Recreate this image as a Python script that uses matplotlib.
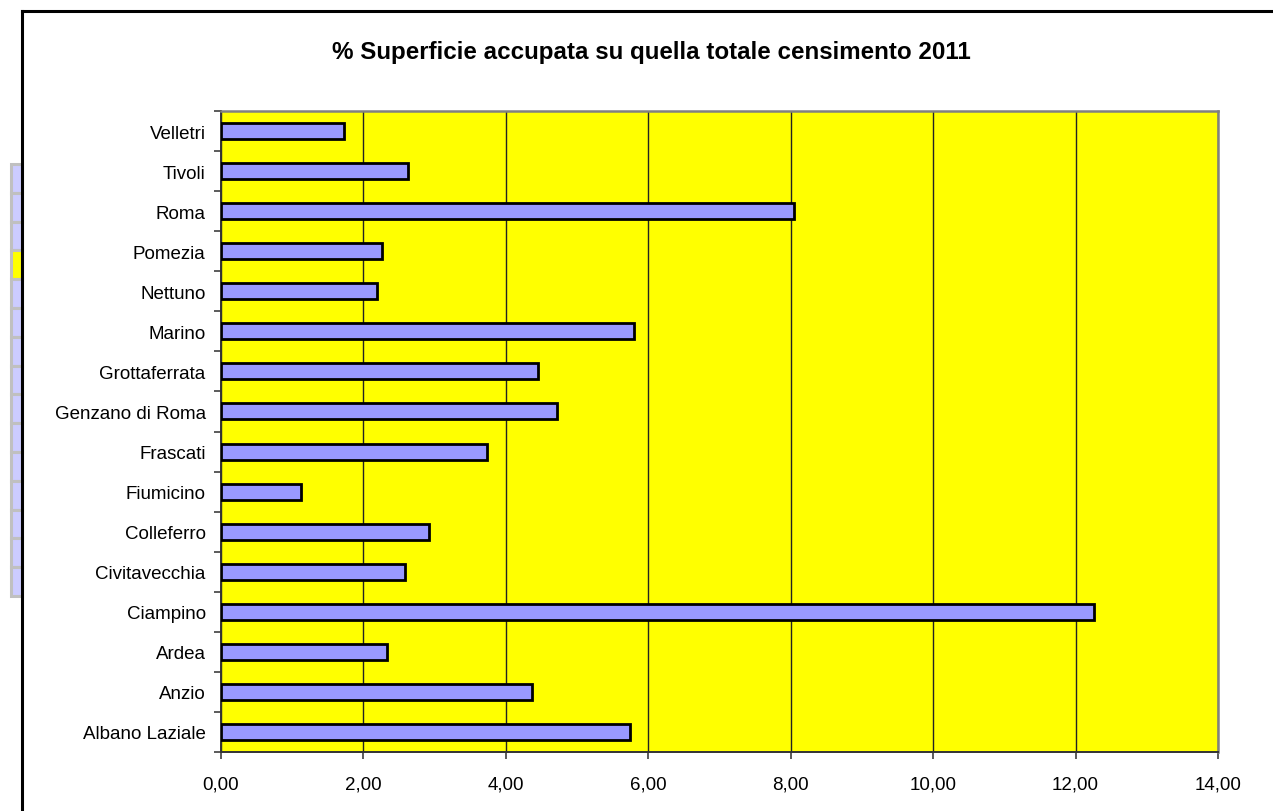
import matplotlib
matplotlib.use("Agg")
import matplotlib.pyplot as plt
from matplotlib.patches import Rectangle
from matplotlib.lines import Line2D
from matplotlib.ticker import FuncFormatter, FixedLocator
import numpy as np

categories = ["Albano Laziale", "Anzio", "Ardea", "Ciampino", "Civitavecchia",
              "Colleferro", "Fiumicino", "Frascati", "Genzano di Roma",
              "Grottaferrata", "Marino", "Nettuno", "Pomezia", "Roma",
              "Tivoli", "Velletri"]
values = [5.74, 4.37, 2.33, 12.26, 2.58, 2.92, 1.12, 3.74, 4.72,
          4.45, 5.80, 2.19, 2.26, 8.05, 2.63, 1.73]
xticks = [0, 2, 4, 6, 8, 10, 12, 14]
title = "% Superficie accupata su quella totale censimento 2011"

plt.rcParams['font.family'] = ['Liberation Sans', 'DejaVu Sans']

W, H = 1273, 812
fig = plt.figure(figsize=(W / 100, H / 100), dpi=100)
fig.patch.set_facecolor("white")

ax = fig.add_axes([221 / W, 1 - 753 / H, (1218 - 221) / W, (753 - 112) / H])
ax.set_facecolor("#FFFF00")

y = np.arange(len(categories))
ax.barh(y, values, height=0.4, color="#9999FF", edgecolor="black",
        linewidth=2.0, zorder=3)

ax.set_xlim(0, 14)
ax.set_ylim(-0.5, len(categories) - 0.5)
ax.set_xticks(xticks)
ax.xaxis.set_major_formatter(FuncFormatter(lambda v, p: f"{v:.2f}".replace(".", ",")))
ax.set_yticks(y)
ax.set_yticklabels(categories)
ax.yaxis.set_minor_locator(FixedLocator(np.arange(-0.5, len(categories), 1.0)))

ax.tick_params(axis="y", which="major", length=0, pad=11, labelsize=13.5, colors="black")
ax.tick_params(axis="y", which="minor", length=5, width=1.2, color="#404040", direction="out")
ax.tick_params(axis="x", which="major", length=5, width=1.2, color="#404040",
               direction="out", pad=12, labelsize=13.5, labelcolor="black")

ax.grid(axis="x", color="#222222", linewidth=1.0, zorder=1)
ax.set_axisbelow(True)

for s in ["top", "right"]:
    ax.spines[s].set_color("#808080")
    ax.spines[s].set_linewidth(1.8)
ax.spines["left"].set_color("#333333")
ax.spines["left"].set_linewidth(1.4)
ax.spines["bottom"].set_color("#333333")
ax.spines["bottom"].set_linewidth(1.4)

fig.text(651 / W, 1 - 52 / H, title, ha="center", va="center",
         fontsize=17.4, fontweight="bold")

# black outer frame (cut at right and bottom)
fig.add_artist(Line2D([22 / W, 22 / W], [0, 1 - 12 / H], transform=fig.transFigure,
                      color="black", linewidth=2.2))
fig.add_artist(Line2D([22 / W, 1], [1 - 12 / H, 1 - 12 / H], transform=fig.transFigure,
                      color="black", linewidth=2.2))

# spreadsheet cells peeking at the left
top = 165
cell_h = 28.8
n_cells = 15
for i in range(n_cells):
    y0 = top + i * cell_h
    fc = "#FFFF00" if i == 3 else "#CCCCFF"
    fig.add_artist(Rectangle((10.5 / W, 1 - (y0 + cell_h) / H), 11 / W, cell_h / H,
                             transform=fig.transFigure, facecolor=fc,
                             edgecolor="#C0C0C0", linewidth=2.2))

fig.savefig("out.png", dpi=100)
